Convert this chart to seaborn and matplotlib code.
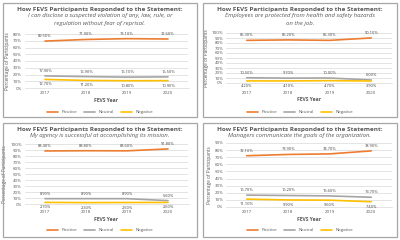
import matplotlib
matplotlib.use("Agg")
import matplotlib.pyplot as plt
import seaborn as sns
import pandas as pd
from matplotlib.patches import Rectangle

years = [2017, 2018, 2019, 2020]
series_names = ["Positive", "Neutral", "Negative"]

title = "How FEVS Participants Responded to the Statement:"
subtitles = [
    "I can disclose a suspected violation of any, law, rule, or\nregulation without fear of reprisal.",
    "Employees are protected from health and safety hazards\non the job.",
    "My agency is successful at accomplishing its mission.",
    "Managers communicate the goals of the organization.",
]

p1_pos = [69.5, 71.9, 73.1, 72.6]
p1_neu = [17.9, 16.9, 16.1, 16.5]
p1_neg = [12.7, 11.2, 10.8, 10.9]

p2_pos = [85.3, 86.2, 85.3, 90.1]
p2_neu = [10.5, 9.7, 10.0, 6.0]
p2_neg = [4.2, 4.1, 4.7, 3.9]

p3_pos = [88.4, 88.8, 88.6, 91.8]
p3_neu = [8.9, 8.9, 8.9, 5.6]
p3_neg = [2.7, 2.3, 2.5, 2.6]

p4_pos = [72.1, 73.9, 74.7, 78.9]
p4_neu = [16.7, 16.2, 15.6, 13.7]
p4_neg = [11.1, 9.9, 9.6, 7.4]

y_max = [80, 100, 100, 90]

panels = [(p1_pos, p1_neu, p1_neg), (p2_pos, p2_neu, p2_neg),
          (p3_pos, p3_neu, p3_neg), (p4_pos, p4_neu, p4_neg)]

colors = {"Positive": "#ED7D31", "Neutral": "#A5A5A5", "Negative": "#FFC000"}

sns.set_theme(style="white")
plt.rcParams["font.family"] = ["Open Sans", "DejaVu Sans"]

W, H = 400, 240
fig = plt.figure(figsize=(4, 2.4), dpi=100)
fig.patch.set_facecolor("white")

layouts = [
    dict(box=(3, 3, 197, 117), ax=(24.5, 34, 188.5, 88), ty=9, pad=2.5, leg=112),
    dict(box=(203, 3, 397, 117), ax=(226, 33, 392, 83), ty=9, pad=5.5, leg=112),
    dict(box=(3, 123, 197, 237), ax=(24.5, 144, 188.5, 204), ty=129, pad=4.5, leg=230),
    dict(box=(203, 123, 397, 237), ax=(226, 143, 392, 207), ty=129, pad=2.5, leg=230),
]

txt = "#595959"

for i, (lay, data) in enumerate(zip(layouts, panels)):
    bx0, by0, bx1, by1 = lay["box"]
    fig.patches.append(Rectangle((bx0 / W, 1 - by1 / H), (bx1 - bx0) / W, (by1 - by0) / H,
                                 transform=fig.transFigure, fill=False,
                                 edgecolor="#A6A6A6", linewidth=0.9))
    cx = (bx0 + bx1) / 2 / W
    fig.text(cx, 1 - lay["ty"] / H, title, ha="center", va="center",
             fontsize=4.6, fontweight="bold", color=txt)
    fig.text(cx, 1 - (lay["ty"] + 4.5) / H, subtitles[i], ha="center", va="top",
             fontsize=4.35, fontstyle="italic", color=txt, linespacing=1.55)

    ax0, ay0, ax1, ay1 = lay["ax"]
    ax = fig.add_axes([ax0 / W, 1 - ay1 / H, (ax1 - ax0) / W, (ay1 - ay0) / H])
    rows = []
    for name, vals in zip(series_names, data):
        for y, v in zip(years, vals):
            rows.append({"Year": y, "Value": v, "Series": name})
    df = pd.DataFrame(rows)
    sns.lineplot(data=df, x="Year", y="Value", hue="Series", palette=colors,
                 hue_order=series_names, linewidth=1.2, ax=ax, legend=False)
    ax.set_xlim(2016.5, 2020.5)
    ax.set_ylim(0, y_max[i])
    ax.set_yticks(range(0, y_max[i] + 1, 10))
    ax.set_yticklabels([f"{t}%" for t in range(0, y_max[i] + 1, 10)])
    ax.set_xticks(years)
    ax.set_xticklabels([str(y) for y in years])
    ax.tick_params(axis="both", labelsize=3.2, colors=txt, length=0, pad=2)
    ax.tick_params(axis="x", pad=lay["pad"])
    ax.yaxis.grid(True, color="#D9D9D9", linewidth=0.5)
    ax.set_axisbelow(True)
    for s in ax.spines.values():
        s.set_visible(False)
    ax.spines["bottom"].set_visible(True)
    ax.spines["bottom"].set_color("#D9D9D9")
    ax.spines["bottom"].set_linewidth(0.5)
    ax.set_xlabel("FEVS Year", fontsize=3.6, color=txt, fontweight="bold", labelpad=2)
    ax.set_ylabel("Percentage of Participants", fontsize=3.4, color=txt, labelpad=2)
    ax.set_facecolor("none")

    for name, vals in zip(series_names, data):
        off = -2.2 if name == "Negative" else 2.2
        va = "top" if name == "Negative" else "bottom"
        for y, v in zip(years, vals):
            ax.annotate(f"{v:.2f}%", (y, v), xytext=(0, off), textcoords="offset points",
                        ha="center", va=va, fontsize=2.9, color="#404040")

    handles = [plt.Line2D([], [], color=colors[n], linewidth=1.2) for n in series_names]
    fig.legend(handles, series_names, loc="center",
               bbox_to_anchor=(cx, 1 - lay["leg"] / H), ncol=3, frameon=False, fontsize=3.2,
               handlelength=2.5, columnspacing=1.5, labelcolor=txt)

fig.savefig("out.png", dpi=100, facecolor="white")
